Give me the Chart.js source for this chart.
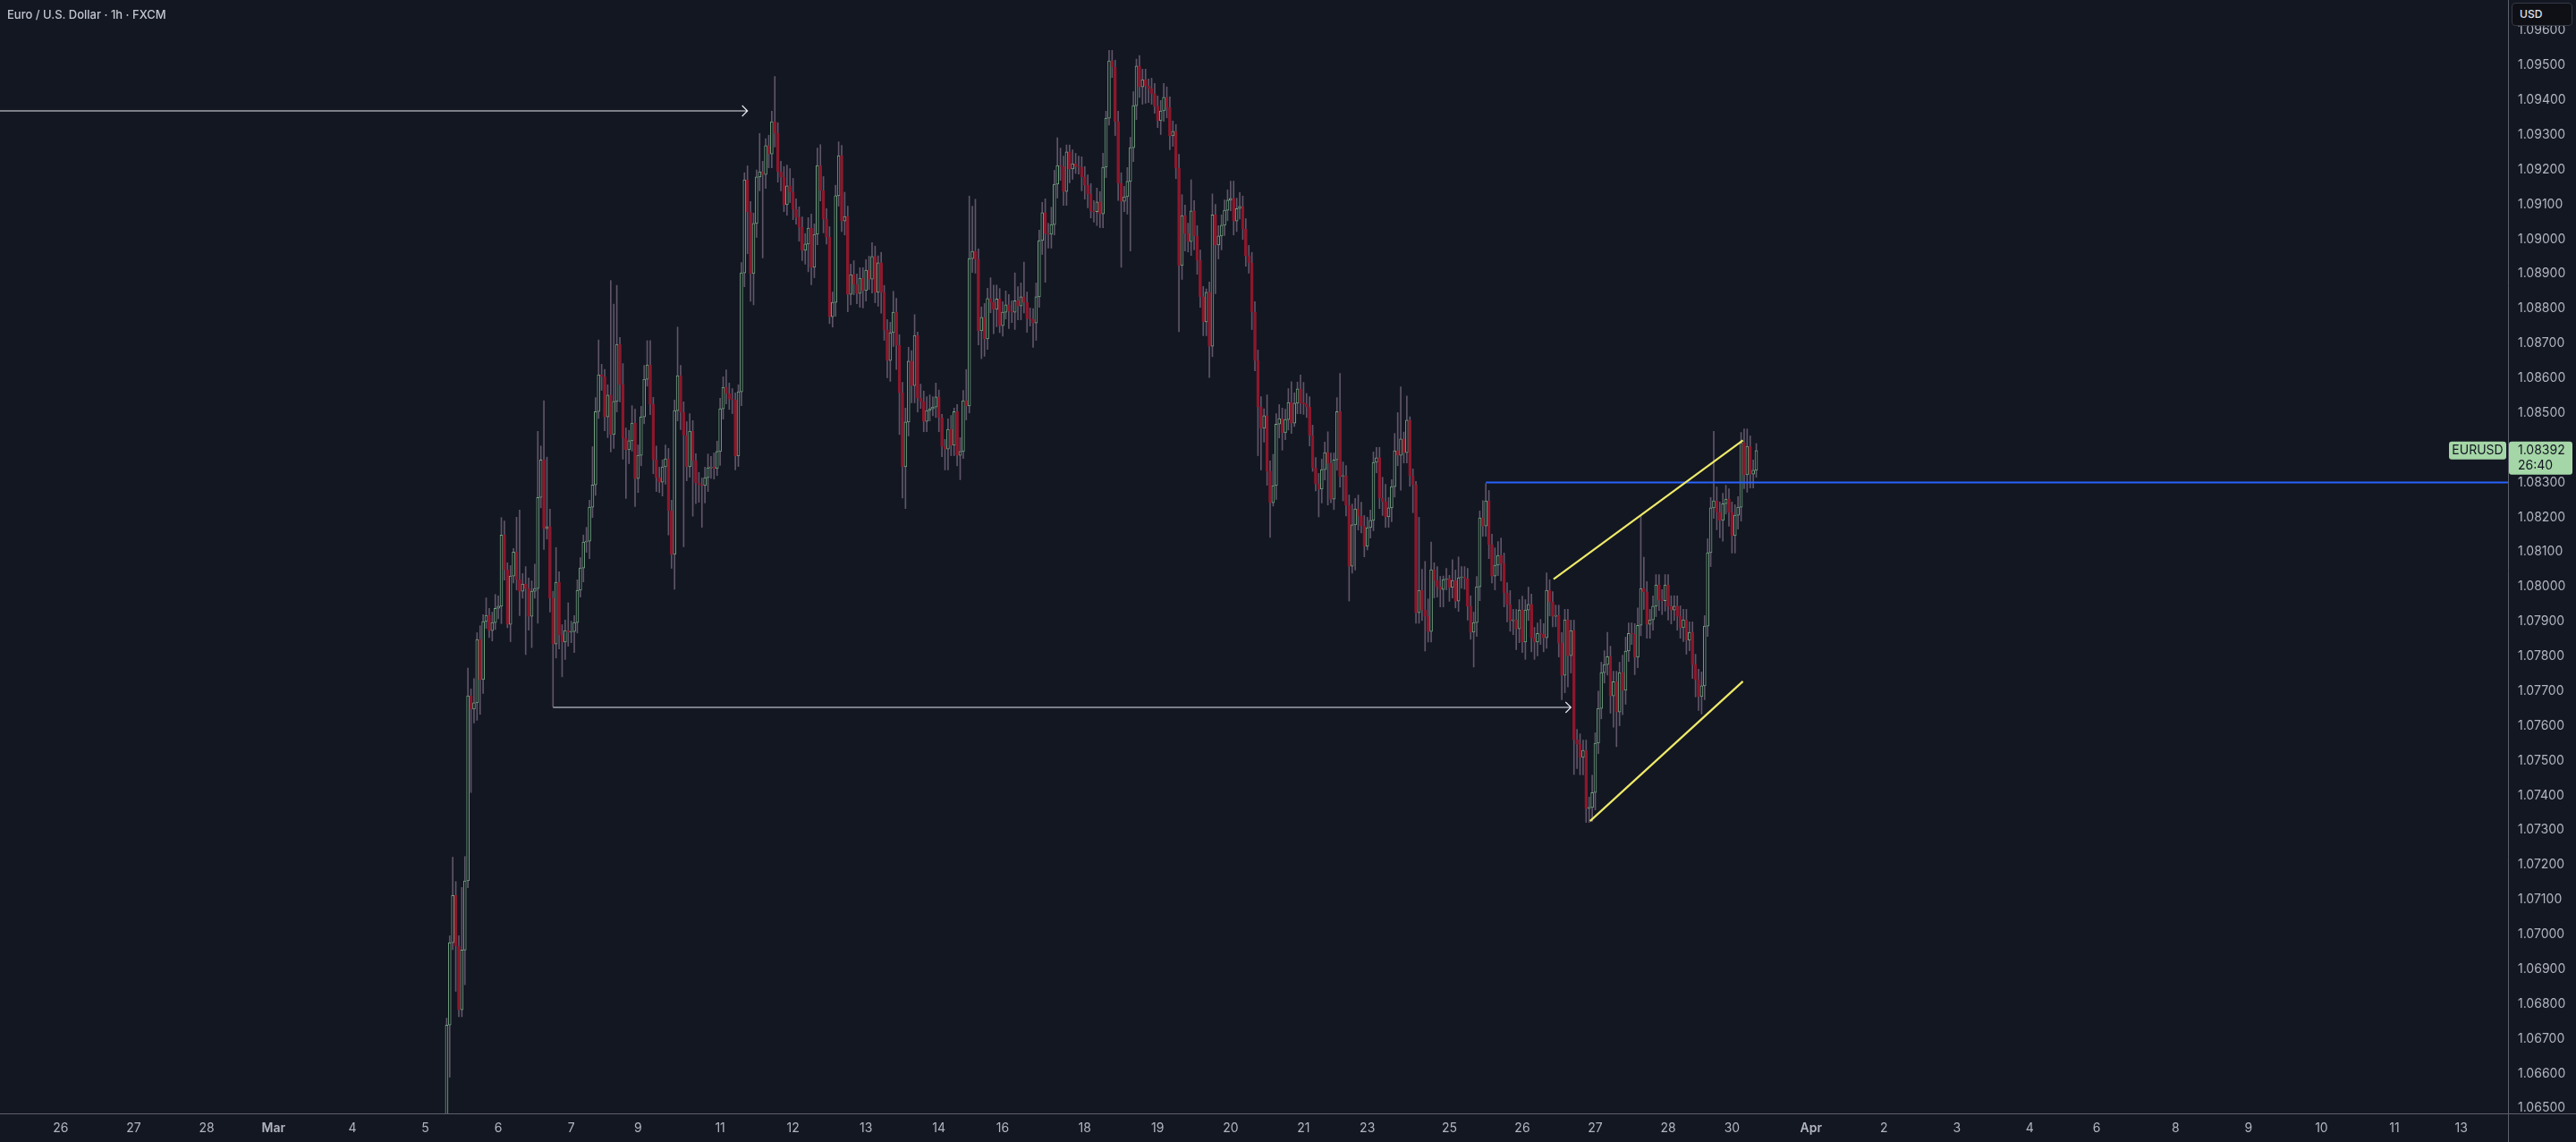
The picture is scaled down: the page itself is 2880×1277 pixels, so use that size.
<!DOCTYPE html>
<html>
<head>
    <meta charset="utf-8">
    <title>Euro / U.S. Dollar - 1h - FXCM</title>
    <script src="https://cdn.jsdelivr.net/npm/chart.js@4.4.1/dist/chart.umd.min.js"></script>
    <style>
        html, body {
            margin: 0;
            padding: 0;
            background: #131722;
            overflow: hidden;
        }
        .wrap {
            position: relative;
            width: 2880px;
            height: 1277px;
        }
        .symbol {
            position: absolute;
            left: 8px;
            top: 8px;
            font: 500 13px Inter, sans-serif;
            color: #c3c6ce;
        }
        .currency {
            position: absolute;
            left: 2808px;
            top: 3px;
            width: 68px;
            height: 26px;
            box-sizing: border-box;
            border: 1px solid #363a45;
            border-radius: 4px;
            background: #0e1016;
            color: #e0e3eb;
            font: 500 12px Inter, sans-serif;
            line-height: 24px;
            padding-left: 8px;
        }
    </style>
</head>
<body>
    <div class="wrap">
        <canvas id="chart"></canvas>
        <div class="symbol">Euro / U.S. Dollar · 1h · FXCM</div>
        <div class="currency">USD</div>
    </div>

    <script>
        // hourly candles, open = previous close
        const firstOpen = 1.06300;
        const closes = [
            1.06739,1.06976,1.07112,1.06966,1.06783,1.06955,1.07154,1.07686,1.07648,1.07666,
            1.07848,1.07733,1.07900,1.07918,1.07874,1.07897,1.07938,1.07944,1.08149,1.08049,
            1.07892,1.08031,1.08100,1.08021,1.07987,1.08008,1.07995,1.07915,1.07987,1.07995,
            1.08257,1.08365,1.08167,1.08173,1.07967,1.07835,1.08013,1.07861,1.07841,1.07874,
            1.07869,1.07871,1.07897,1.07990,1.08054,1.08129,1.08131,1.08229,1.08293,1.08504,
            1.08610,1.08605,1.08489,1.08551,1.08438,1.08533,1.08697,1.08582,1.08427,1.08394,
            1.08420,1.08471,1.08311,1.08378,1.08489,1.08597,1.08638,1.08525,1.08365,1.08314,
            1.08301,1.08345,1.08368,1.08219,1.08093,1.08507,1.08607,1.08502,1.08435,1.08345,
            1.08448,1.08363,1.08299,1.08293,1.08291,1.08314,1.08342,1.08345,1.08340,1.08389,
            1.08512,1.08574,1.08556,1.08540,1.08538,1.08376,1.08561,1.08903,1.09171,1.09078,
            1.08901,1.09045,1.09179,1.09194,1.09186,1.09269,1.09245,1.09338,1.09305,1.09194,
            1.09179,1.09099,1.09153,1.09135,1.09086,1.09063,1.09034,1.08968,1.08986,1.09032,
            1.08919,1.09014,1.09212,1.09140,1.09058,1.09006,1.08777,1.08818,1.09125,1.09240,
            1.09052,1.09065,1.08841,1.08898,1.08870,1.08844,1.08888,1.08852,1.08911,1.08885,
            1.08950,1.08847,1.08932,1.08847,1.08739,1.08651,1.08731,1.08790,1.08695,1.08558,
            1.08345,1.08474,1.08649,1.08579,1.08723,1.08543,1.08533,1.08476,1.08507,1.08512,
            1.08517,1.08546,1.08486,1.08404,1.08396,1.08453,1.08407,1.08504,1.08378,1.08389,
            1.08535,1.08520,1.08944,1.08965,1.08942,1.08736,1.08775,1.08713,1.08829,1.08818,
            1.08798,1.08828,1.08751,1.08790,1.08811,1.08793,1.08790,1.08823,1.08808,1.08834,
            1.08818,1.08772,1.08770,1.08759,1.08834,1.08996,1.09076,1.09016,1.09014,1.09042,
            1.09158,1.09212,1.09209,1.09137,1.09251,1.09202,1.09217,1.09209,1.09207,1.09179,
            1.09155,1.09130,1.09081,1.09079,1.09107,1.09073,1.09207,1.09348,1.09513,1.09495,
            1.09338,1.09161,1.09109,1.09122,1.09166,1.09263,1.09384,1.09498,1.09438,1.09459,
            1.09441,1.09433,1.09418,1.09382,1.09341,1.09369,1.09408,1.09379,1.09297,1.09310,
            1.09204,1.08924,1.09068,1.09016,1.08993,1.09081,1.09009,1.08939,1.08834,1.08762,
            1.08847,1.08692,1.09070,1.08983,1.09009,1.09040,1.09083,1.09112,1.09117,1.09052,
            1.09088,1.09094,1.09029,1.08952,1.08932,1.08790,1.08651,1.08517,1.08456,1.08492,
            1.08332,1.08242,1.08291,1.08468,1.08484,1.08443,1.08481,1.08530,1.08471,1.08528,
            1.08569,1.08528,1.08526,1.08517,1.08435,1.08342,1.08296,1.08281,1.08337,1.08386,
            1.08355,1.08252,1.08365,1.08504,1.08317,1.08319,1.08234,1.08059,1.08178,1.08224,
            1.08203,1.08175,1.08116,1.08170,1.08191,1.08358,1.08371,1.08255,1.08245,1.08201,
            1.08227,1.08288,1.08391,1.08378,1.08425,1.08386,1.08479,1.08319,1.08293,1.07925,
            1.07990,1.07933,1.07915,1.07871,1.08049,1.08018,1.08000,1.07992,1.08021,1.08023,
            1.07998,1.08018,1.07959,1.08026,1.08028,1.08023,1.07944,1.07869,1.07897,1.08000,
            1.08198,1.08175,1.08247,1.08121,1.08031,1.08062,1.08090,1.08067,1.07982,1.07949,
            1.07902,1.07905,1.07879,1.07933,1.07841,1.07933,1.07949,1.07853,1.07841,1.07866,
            1.07864,1.07853,1.07990,1.07956,1.07915,1.07917,1.07838,1.07745,1.07905,1.07802,
            1.07874,1.07560,1.07547,1.07509,1.07529,1.07362,1.07365,1.07408,1.07550,1.07650,
            1.07753,1.07776,1.07799,1.07686,1.07727,1.07640,1.07753,1.07702,1.07815,1.07866,
            1.07864,1.07797,1.07889,1.07995,1.07985,1.07892,1.07905,1.07944,1.08005,1.07962,
            1.07960,1.08005,1.07944,1.07933,1.07944,1.07915,1.07882,1.07905,1.07846,1.07869,
            1.07776,1.07733,1.07684,1.07715,1.07887,1.08098,1.08227,1.08247,1.08214,1.08191,
            1.08239,1.08252,1.08214,1.08147,1.08206,1.08229,1.08414,1.08322,1.08404,1.08324,
            1.08335,1.08392
        ];
        // wick lengths in pips, above and below each body
        const wickUp = [
            2,2,11,4,3,18,7,8,2,7, 2,4,2,5,2,3,4,3,5,4, 2,3,1,10,20,3,5,3,3,7, 19,4,17,20,5,2,10,3,3,3,
            8,3,2,3,3,2,4,2,11,4, 10,3,2,3,33,28,17,2,6,3, 3,5,4,3,3,4,7,7,2,4, 3,2,4,3,3,3,14,3,3,4,
            5,3,2,3,2,3,4,3,4,3, 3,3,5,3,3,2,2,3,2,4, 3,3,2,11,3,2,3,3,13,3, 3,3,6,5,4,3,3,3,3,3,
            4,3,5,6,4,3,3,3,3,4, 3,7,3,3,4,3,3,3,3,4, 4,3,2,3,2,3,3,6,4,3, 3,4,4,3,6,1,4,3,4,4,
            3,4,2,1,2,3,4,1,2,4, 3,9,18,13,15,3,3,4,3,6, 5,4,3,3,4,3,3,8,4,4, 10,3,3,3,4,3,3,4,3,5,
            4,8,5,3,2,2,4,3,3,3, 3,3,3,3,4,3,4,2,3,3, 2,3,3,3,4,3,4,2,3,3, 3,2,3,3,3,3,4,3,3,3,
            2,4,6,3,3,9,3,3,3,3, 1,3,6,3,3,3,3,3,5,5, 3,4,3,3,3,3,3,3,3,2, 6,3,9,3,4,3,3,4,6,3,
            2,4,6,3,3,3,3,3,3,3, 6,3,2,4,11,4,3,3,6,3, 4,4,3,3,3,3,3,3,6,5, 3,2,5,11,15,2,7,1,2,1,
            21,6,14,5,8,2,4,3,1,3, 1,6,3,6,3,3,3,3,3,3, 2,5,5,3,3,5,4,5,3,3, 4,3,3,3,4,3,5,3,3,3,
            4,3,5,3,3,3,3,3,3,3, 3,3,3,3,3,3,3,5,3,5, 3,4,7,3,3,3,3,5,4,3, 3,3,5,21,9,3,3,3,3,3,
            3,3,3,3,3,3,3,3,3,3, 3,3,3,4,3,4,3,20,4,3, 3,4,3,3,3,3,3,4,5,3, 3,2
        ];
        const wickDown = [
            5,15,2,13,2,2,10,2,24,4, 5,10,4,2,2,3,2,3,5,3, 1,5,2,3,7,2,19,4,9,2, 10,3,6,3,4,18,4,4,10,5,
            4,3,6,3,2,4,3,5,3,3, 2,4,4,6,5,4,3,5,6,14, 4,3,8,4,3,2,2,3,4,4, 3,4,5,7,4,10,3,5,32,4,
            3,16,6,5,12,5,4,3,3,2, 4,3,3,3,4,4,3,4,4,12, 8,9,4,4,24,4,4,4,4,3, 4,2,3,3,3,2,4,3,4,8,
            5,3,3,3,4,2,2,3,4,3, 3,4,5,3,3,3,4,5,3,3, 4,3,4,6,3,5,6,4,7,12, 9,12,4,5,5,4,2,3,3,3,
            2,3,4,3,6,6,3,3,3,7, 2,4,2,4,4,4,8,5,3,3, 7,5,2,3,2,5,3,5,4,4, 3,4,2,7,5,3,4,14,4,4,
            3,4,4,4,4,4,3,2,2,4, 4,4,2,3,4,4,4,3,2,3, 4,5,19,3,5,20,4,4,3,5, 5,4,3,2,2,4,3,3,4,3,
            3,19,4,5,3,4,4,4,3,4, 4,9,3,14,4,4,3,3,3,4, 3,3,3,3,3,5,3,14,12,4, 4,10,1,4,4,5,2,3,3,1,
            3,3,3,3,3,1,2,8,4,3, 12,1,3,3,3,7,3,10,2,13, 4,2,3,1,3,3,3,3,4,3, 3,4,3,3,10,3,3,3,8,3,
            3,3,10,3,3,5,3,5,5,3, 4,3,2,3,3,3,4,2,10,4, 4,3,3,4,2,4,3,5,4,5, 3,4,6,4,3,5,3,4,5,4,
            3,4,3,4,3,3,4,7,5,9, 5,10,7,5,5,4,4,4,5,3, 3,3,3,5,9,10,4,7,4,3, 3,5,3,3,5,4,4,3,3,3,
            4,3,4,4,3,4,3,4,4,3, 4,5,4,5,4,3,4,3,5,5, 6,3,4,5,5,4,4,4,5,4, 4,2
        ];

        // time axis: hour index of each date label
        const tickIdx = [-127, -103, -79, -57, -31, -7, 17, 41, 63, 90, 114, 138, 162, 183, 210, 234, 258,
                         282, 303, 330, 354, 378, 402, 423, 449, 473, 497, 521, 543, 569, 593, 617, 641, 663];
        const tickText = ['26', '27', '28', 'Mar', '4', '5', '6', '7', '9', '11', '12', '13', '14', '16', '18', '19', '20',
                          '21', '23', '25', '26', '27', '28', '30', 'Apr', '2', '3', '4', '6', '8', '9', '10', '11', '13'];
        const priceTicks = [1.065, 1.066, 1.067, 1.068, 1.069, 1.070, 1.071, 1.072, 1.073, 1.074, 1.075,
                            1.076, 1.077, 1.078, 1.079, 1.080, 1.081, 1.082, 1.083, 1.084, 1.085, 1.086,
                            1.087, 1.088, 1.089, 1.090, 1.091, 1.092, 1.093, 1.094, 1.095, 1.096];

        const lastPrice = 1.08392;
        const countdown = '26:40';

        // drawings, as [hour index, price]
        const arrowFrom = [[-147, 1.09369], [35, 1.07653]];
        const arrowTo = [[99, 1.09369], [370, 1.07653]];
        const levelFrom = [342, 1.08300];
        const channelTop = [[364.3, 1.08022], [426.6, 1.08421]];
        const channelBottom = [[376.3, 1.07326], [426.6, 1.07728]];

        const PIP = 0.0001;
        const opens = closes.map((c, i) => i === 0 ? firstOpen : closes[i - 1]);
        const highs = closes.map((c, i) => Math.max(opens[i], c) + wickUp[i] * PIP);
        const lows = closes.map((c, i) => Math.min(opens[i], c) - wickDown[i] * PIP);

        const UP = '#72a380';
        const DOWN = '#8c182c';
        const BG = '#131722';
        const TXT = '#b2b5be';
        const FONT = 'Inter, sans-serif';

        const isUp = i => closes[i] >= opens[i];

        const drawings = {
            id: 'drawings',
            afterDatasetsDraw(chart) {
                const { ctx, chartArea: a, scales: { x, y } } = chart;
                const px = p => [x.getPixelForValue(p[0]), y.getPixelForValue(p[1])];
                ctx.save();
                ctx.beginPath();
                ctx.rect(a.left, a.top, a.right - a.left, a.bottom - a.top);
                ctx.clip();

                // white arrows
                ctx.strokeStyle = '#e6e8ee';
                ctx.lineWidth = 1.2;
                arrowFrom.forEach((f, k) => {
                    const [x1, y1] = px(f);
                    const [x2, y2] = px(arrowTo[k]);
                    ctx.beginPath();
                    ctx.moveTo(x1, y1);
                    ctx.lineTo(x2, y2);
                    ctx.moveTo(x2 - 6, y2 - 6);
                    ctx.lineTo(x2, y2);
                    ctx.lineTo(x2 - 6, y2 + 6);
                    ctx.stroke();
                });

                // horizontal level
                const [lx, ly] = px(levelFrom);
                ctx.strokeStyle = '#2962ff';
                ctx.lineWidth = 2;
                ctx.beginPath();
                ctx.moveTo(lx, ly);
                ctx.lineTo(a.right, ly);
                ctx.stroke();

                // channel
                ctx.strokeStyle = '#efea6a';
                ctx.lineWidth = 2.2;
                [channelTop, channelBottom].forEach(seg => {
                    const [x1, y1] = px(seg[0]);
                    const [x2, y2] = px(seg[1]);
                    ctx.beginPath();
                    ctx.moveTo(x1, y1);
                    ctx.lineTo(x2, y2);
                    ctx.stroke();
                });
                ctx.restore();
            },
            afterDraw(chart) {
                const { ctx, chartArea: a, width, height, scales: { y } } = chart;
                ctx.save();
                // pane separators
                ctx.strokeStyle = '#5d606b';
                ctx.lineWidth = 1;
                ctx.beginPath();
                ctx.moveTo(0, a.bottom + 0.5);
                ctx.lineTo(width, a.bottom + 0.5);
                ctx.moveTo(a.right + 0.5, 0);
                ctx.lineTo(a.right + 0.5, height);
                ctx.stroke();

                // last price labels
                const py = y.getPixelForValue(lastPrice);
                ctx.fillStyle = '#a5d6a7';
                ctx.beginPath();
                ctx.roundRect(a.right + 1, py - 10, 71, 37, 3);
                ctx.fill();
                ctx.beginPath();
                ctx.roundRect(a.right - 66, py - 10, 64, 20, 3);
                ctx.fill();

                ctx.fillStyle = '#131722';
                ctx.font = '14px ' + FONT;
                ctx.textBaseline = 'middle';
                ctx.textAlign = 'left';
                ctx.fillText(lastPrice.toFixed(5), a.right + 11, py);
                ctx.fillText(countdown, a.right + 11, py + 17);
                ctx.textAlign = 'center';
                ctx.fillText('EURUSD', a.right - 34, py);
                ctx.restore();
            }
        };

        new Chart(document.getElementById('chart'), {
            type: 'bar',
            data: {
                datasets: [
                    {
                        label: 'wicks',
                        data: closes.map((c, i) => ({ x: i, y: [lows[i], highs[i]] })),
                        backgroundColor: '#5f5569',
                        borderWidth: 0,
                        barThickness: 1,
                        grouped: false,
                        order: 2
                    },
                    {
                        label: 'bodies',
                        data: closes.map((c, i) => ({ x: i, y: [opens[i], c] })),
                        backgroundColor: ctx => isUp(ctx.dataIndex) ? BG : DOWN,
                        borderColor: ctx => isUp(ctx.dataIndex) ? UP : DOWN,
                        borderWidth: 1,
                        borderSkipped: false,
                        barThickness: 3,
                        minBarLength: 1,
                        grouped: false,
                        order: 1
                    }
                ]
            },
            options: {
                responsive: true,
                maintainAspectRatio: false,
                animation: false,
                events: [],
                layout: { padding: 0 },
                plugins: {
                    legend: { display: false },
                    tooltip: { enabled: false }
                },
                scales: {
                    x: {
                        type: 'linear',
                        min: -147,
                        max: 678.4,
                        offset: false,
                        grid: { display: false, drawTicks: false, offset: false },
                        border: { display: false },
                        afterBuildTicks: s => { s.ticks = tickIdx.map(v => ({ value: v })); },
                        afterFit: s => {
                            s.height = 32;
                            s.paddingLeft = 0;
                            s.paddingRight = 0;
                        },
                        ticks: {
                            autoSkip: false,
                            maxRotation: 0,
                            padding: 8,
                            color: TXT,
                            font: ctx => ({
                                family: FONT,
                                size: 14,
                                weight: (tickText[ctx.index] === 'Mar' || tickText[ctx.index] === 'Apr') ? '600' : '400'
                            }),
                            callback: (v, i) => tickText[i]
                        }
                    },
                    y: {
                        type: 'linear',
                        position: 'right',
                        min: 1.06485,
                        max: 1.09688,
                        grid: { display: false, drawTicks: false },
                        border: { display: false },
                        afterBuildTicks: s => { s.ticks = priceTicks.map(v => ({ value: v })); },
                        afterFit: s => {
                            s.width = 76;
                            s.paddingTop = 0;
                            s.paddingBottom = 0;
                        },
                        ticks: {
                            padding: 11,
                            color: TXT,
                            font: { family: FONT, size: 14 },
                            callback: v => Number(v).toFixed(5)
                        }
                    }
                }
            },
            plugins: [drawings]
        });
    </script>
</body>
</html>
